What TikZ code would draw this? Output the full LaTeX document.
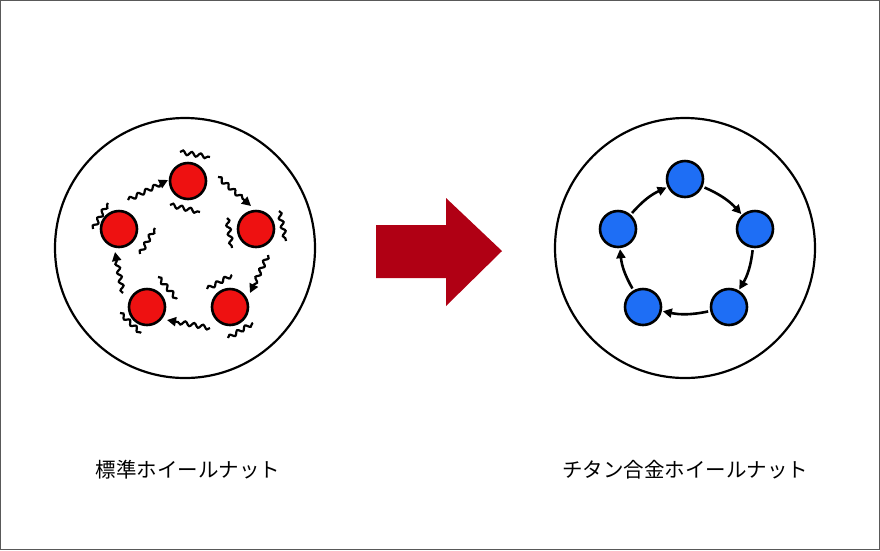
\documentclass[tikz,border=0pt]{standalone}
\usepackage{fontspec}
\newfontfamily\cjk{Noto Sans CJK JP}
\usetikzlibrary{decorations.pathmorphing,arrows.meta}
\definecolor{redn}{HTML}{EE1111}
\definecolor{bluen}{HTML}{1E6EF5}
\definecolor{bigred}{HTML}{B00014}
\begin{document}
\begin{tikzpicture}[x=1pt,y=-1pt,
  big/.style={circle,draw,line width=2.2pt,minimum size=260pt,inner sep=0},
  rn/.style={circle,draw,line width=2.6pt,fill=redn,minimum size=36pt,inner sep=0},
  bn/.style={circle,draw,line width=2.6pt,fill=bluen,minimum size=36pt,inner sep=0},
  barr/.style={-{Triangle[length=9pt,width=9pt]},line width=2.6pt,bend left=12,shorten <=2pt,shorten >=1pt},
  wav/.style={line width=2.2pt,decorate,decoration={snake,amplitude=2pt,segment length=9pt}},
  warr/.style={line width=2.2pt,-{Triangle[length=9pt,width=9pt]},decorate,decoration={snake,amplitude=2pt,segment length=9pt,post length=7pt}},
  lab/.style={font=\cjk\fontsize{20.5}{24}\selectfont}]
\draw[gray!70!black,line width=1pt,fill=white] (0.5,0.5) rectangle (879.5,549.5);
\path[use as bounding box] (0,0) rectangle (880,550);
\node[big] (L) at (185,248) {};
\node[big] (R) at (685,248) {};
% left nodes
\node[rn] (l1) at (188,181) {};
\node[rn] (l2) at (256,229) {};
\node[rn] (l3) at (230,307) {};
\node[rn] (l4) at (147,307) {};
\node[rn] (l5) at (119,229) {};
\coordinate (a1) at (128,200); \coordinate (b1) at (168,180);
\coordinate (a2) at (218,177); \coordinate (b2) at (251,206);
\coordinate (a3) at (268,255); \coordinate (b3) at (250,293);
\coordinate (a4) at (210,328); \coordinate (b4) at (167,320);
\coordinate (a5) at (123,293); \coordinate (b5) at (115,252);
\foreach \i in {1,...,5}{\draw[warr] (a\i) -- (b\i);}
\foreach \p/\q in {{(180,152)}/{(210,157)},{(170,205)}/{(200,212)},{(279,211)}/{(286,241)},{(227,218)}/{(232,248)},{(93,229)}/{(108,203)},{(140,254)}/{(155,228)},{(207,289)}/{(232,275)},{(228,338)}/{(253,323)},{(158,277)}/{(177,299)},{(120,313)}/{(141,333)}}
  {\draw[wav] \p -- \q;}
% right nodes
\node[bn] (r1) at (685,179) {};
\node[bn] (r2) at (755,229) {};
\node[bn] (r3) at (729,307) {};
\node[bn] (r4) at (643,307) {};
\node[bn] (r5) at (618,229) {};
\draw[barr] (r1) to (r2);
\draw[barr] (r2) to (r3);
\draw[barr] (r3) to (r4);
\draw[barr] (r4) to (r5);
\draw[barr] (r5) to (r1);
% big arrow
\fill[bigred] (376,225) -- (446,225) -- (446,198) -- (502,251) -- (446,306) -- (446,278) -- (376,278) -- cycle;
\node[lab] (t1) at (188,470) {標準ホイールナット};
\node[lab] (t2) at (685,470) {チタン合金ホイールナット};
\end{tikzpicture}
\end{document}
